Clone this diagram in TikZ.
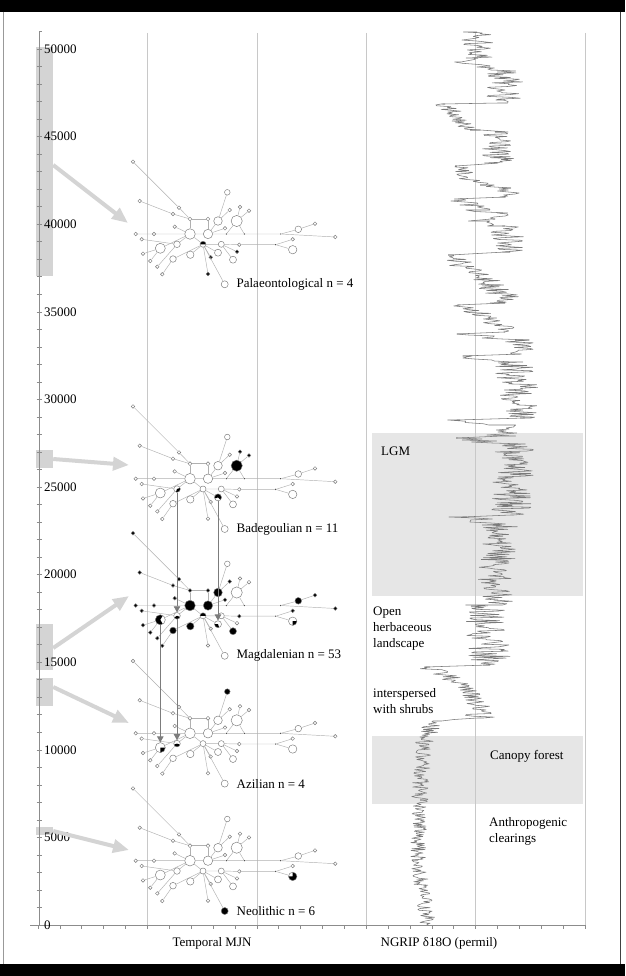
\documentclass[tikz,border=0pt]{standalone}
\usepackage{fontspec}
\setmainfont{Liberation Serif}
\usetikzlibrary{positioning,arrows.meta}
\definecolor{mjngrid}{HTML}{C8C8C8}
\definecolor{mjnaxis}{HTML}{8C8C8C}
\definecolor{mjnedge}{HTML}{B0B0B0}
\definecolor{mjnring}{HTML}{787878}
\definecolor{mjnspan}{HTML}{D4D4D4}
\definecolor{mjnshade}{HTML}{E6E6E6}
\definecolor{mjniso}{HTML}{7C7C7C}
\newcommand\figfont{\fontsize{13}{16}\selectfont}

% one median-joining network, laid out round the central haplotype n17
\newcommand\mjnnet{%
  \foreach \n/\x/\y/\r in {n1/-57/-72.3/1.8, n2/-50.3/-33/1.8, n3/-11/-26.3/1.8, n4/-17/-20/1.8,
      n5/0/-15/1.9, n6/18/-15/1.9, n7/37.3/-41.7/2.8, n8/39.7/-24/1.8, n9/50/-27/1.8,
      n10/59/-23.3/1.8, n11/28/-13/4.3, n12/46.7/-13/5.6, n13/-15.3/-7.3/1.8, n14/35/-5.7/1.8,
      n15/-54.3/0/1.8, n16/-36/0/1.8, n17/0/0/5.3, n18/18/0/4.7, n22/108.3/-4.7/3.3,
      n23/125/-10.3/1.8, n24/145.3/3/1.8, n25/-48.3/5.3/1.8, n26/-29.7/14.3/5, n27/-13/10.3/3.3,
      n28/13/10.3/3, n29/31.3/10.3/3, n30/49.3/10.7/1.8, n32/102.7/5.3/1.8, n33/102.7/15.7/4.2,
      n34/-47/19.7/1.8, n35/0.3/20.7/3.7, n36/-17/25/3.3, n37/28/18.7/3.5, n38/43/25.7/3.5,
      n39/47/17.7/1.8, n40/-39.7/27/1.8, n41/-32.7/32.7/1.8, n42/20.7/23.3/1.8, n43/-27.7/40.3/1.8,
      n44/18/40/1.8, n45/34.7/50.3/3.5}
    \node[hap=\r,look \n/.try] (\n) at (\x,\y) {};
  \foreach \n/\x/\y in {n19/36.3/0, n20/54.3/0, n21/90.7/0, n31/85.7/10.7}
    \node[junction] (\n) at (\x,\y) {};
  \draw[link] (n15) -- (n16) -- (n17) -- (n18) -- (n19) -- (n20) -- (n21) -- (n24);
  \draw[link] (n17) -- (n28) -- (n29) -- (n30) -- (n31) -- (n33);
  \foreach \a/\b in {n1/n3, n3/n5, n2/n4, n4/n5, n5/n6, n5/n17, n6/n18, n7/n11, n8/n11,
      n9/n12, n10/n12, n11/n18, n12/n19, n12/n20, n13/n17, n14/n18, n21/n22, n22/n23,
      n25/n27, n26/n17, n27/n17, n31/n32, n34/n26, n35/n28, n36/n28, n37/n28, n38/n29,
      n39/n29, n40/n26, n41/n27, n43/n36, n42/n28, n44/n28, n45/n28}
    \draw[link] (\a) -- (\b);
}

\begin{document}
\begin{tikzpicture}[x=1pt,y=-1pt,
  hap/.style={circle,draw=mjnring,fill=white,line width=0.45pt,inner sep=0pt,minimum size=2*#1},
  junction/.style={circle,fill=black!75,inner sep=0pt,minimum size=1.4pt},
  blk/.style={fill=black},
  wedge/.style 2 args={path picture={\fill[black] (path picture bounding box.center) -- ++(#1:8pt) arc[start angle=#1,end angle=#2,radius=8pt] -- cycle;}},
  inked/.style={look #1/.style=blk},
  split/.style n args={3}{look #1/.style={wedge={#2}{#3}}},
  link/.style={draw=mjnedge,line width=0.45pt},
  tag/.style={font=\figfont,inner sep=0pt},
  note/.style={font=\figfont,inner sep=0pt,align=left},
  ylab/.style={font=\figfont,inner sep=0pt,anchor=west},
  span/.style={rectangle,fill=mjnspan,inner sep=0pt,minimum width=17pt},
  spanarrow/.style={draw=mjnspan,line width=4pt,-{Triangle[length=16pt,width=13pt]}},
  drop/.style={draw=mjniso,line width=0.8pt,-{Triangle[length=6pt,width=6.5pt]}},
  gridline/.style={draw=mjngrid,line width=0.6pt},
  axisline/.style={draw=mjnaxis,line width=0.6pt},
  iso/.style={draw=black!52,line width=0.55pt,line join=round},
  look pal/.style={split={n28}{0}{180}, inked=n39, inked=n42, inked=n44},
  look bad/.style={inked=n9, inked=n10, inked=n12, split={n27}{-110}{20}, split={n37}{-45}{200}},
  look mag/.style={inked=n1, inked=n2, inked=n3, inked=n4, inked=n5, inked=n6, inked=n8,
    inked=n11, inked=n13, inked=n14, inked=n15, inked=n16, inked=n17, inked=n18, inked=n22,
    inked=n23, inked=n24, inked=n25, inked=n30, inked=n32, inked=n34, inked=n35, inked=n36,
    inked=n38, inked=n40, inked=n41, inked=n43, split={n26}{60}{300}, split={n27}{-150}{-20},
    split={n28}{0}{180}, split={n37}{180}{290}, split={n33}{-90}{0}},
  look azi/.style={inked=n7, split={n26}{-90}{0}, split={n27}{200}{340}},
  look neo/.style={inked=n45, split={n33}{180}{450}}
]
\useasboundingbox (0,0) rectangle (625,976);
\fill[white] (0,0) rectangle (625,976);
\fill[black] (0,0) rectangle (625,12);
\fill[black] (0,964) rectangle (625,976);
\draw[black!40,line width=0.8pt] (3.5,12) -- (3.5,964);
\draw[black!75,line width=1.2pt] (620.5,12) -- (620.5,964);

% climate phases
\fill[mjnshade] (372,433) rectangle (583,596);
\fill[mjnshade] (372,736) rectangle (583,804);

% grid and time axis
\foreach \gx in {147.4,256.8,366.2,475.6,585}
  \draw[gridline] (\gx,33) -- (\gx,925);
\foreach \b/\yc/\h in {1/161.5/229, 2/459/18, 3/647/46, 4/692/28, 5/831/8}
  \node[span,minimum height=\h] (bar\b) at (44.5,\yc) {};
\draw[axisline] (39,31.5) -- (39,925);
\draw[axisline] (39,31.5) -- (42,31.5);
\draw[axisline] (30,925) -- (585,925);
\foreach \k in {1,...,50}
  \draw[axisline] (36.5,{925-17.52*\k}) -- (41.5,{925-17.52*\k});
\foreach \k in {0,...,25}
  \draw[axisline] ({38+21.88*\k},925) -- ++(0,4);
\foreach \k in {0,...,10}
  \node[ylab] (t\k) at (44,{925-87.6*\k}) {\number\numexpr5000*\k\relax};

% NGRIP d18O record
\pgfmathsetseed{4711}
\foreach \yb/\xb/\am [remember=\yb as \ya (initially 32), remember=\xb as \xa (initially 477)] in
  {58/478/12, 62/457/5, 66/490/8, 72/505/14, 100/505/14, 103/505/4, 104/445/5, 130/470/8,
   132/495/14, 163/497/14, 166/455/4, 185/480/10, 188/503/12, 197/505/12, 199/458/4,
   210/480/10, 213/500/12, 219/495/8, 221/472/4, 226/505/14, 252/510/14, 255/448/4,
   285/495/12, 303/505/14, 305/458/4, 318/490/10, 332/505/12, 334/462/4, 340/515/14,
   354/520/14, 356/463/4, 362/515/14, 418/520/16, 420/460/4, 425/505/14, 436/505/14,
   438/456/4, 445/515/16, 515/512/16, 517/467/4, 525/500/14, 600/495/14, 605/485/16,
   665/490/16, 667/430/4, 690/470/10, 718/480/12, 721/437/4, 737/425/8, 800/420/7,
   860/418/6, 925/428/6}
{
  \pgfmathtruncatemacro\ns{max(2,(\yb-\ya)/0.85)}
  \draw[iso] (\xa,\ya) -- plot[domain=\ya:\yb,samples=\ns,variable=\t]
    ({\xa+(\xb-\xa)*(\t-\ya)/(\yb-\ya)+1.3*\am*rand},\t) -- (\xb,\yb);
}

\node[note,anchor=west] (lgm) at (381,451) {LGM};
\node[note,anchor=west] (open) at (373,629) {Open\\herbaceous\\landscape};
\node[note,anchor=west] (shrub) at (373,701) {interspersed\\with shrubs};
\node[note,anchor=west] (canopy) at (490,756) {Canopy forest};
\node[note,anchor=west] (clear) at (489,831) {Anthropogenic\\clearings};

% temporal networks
\begin{scope}[shift={(190,234)},name prefix=pal-,look pal]
  \mjnnet
  \node[tag,right=8pt of n45] (lab) {Palaeontological n = 4};
\end{scope}
\begin{scope}[shift={(190,478.7)},name prefix=bad-,look bad]
  \mjnnet
  \node[tag,right=8pt of n45] (lab) {Badegoulian n = 11};
\end{scope}
\begin{scope}[shift={(190,605.5)},name prefix=mag-,look mag]
  \mjnnet
  \node[tag,right=8pt of n45] (lab) {Magdalenian n = 53};
\end{scope}
\begin{scope}[shift={(190,733.3)},name prefix=azi-,look azi]
  \mjnnet
  \node[tag,right=8pt of n45] (lab) {Azilian n = 4};
\end{scope}
\begin{scope}[shift={(190,860.7)},name prefix=neo-,look neo]
  \mjnnet
  \node[tag,right=8pt of n45] (lab) {Neolithic n = 6};
\end{scope}

\draw[drop] (bad-n27) -- (mag-n27);
\draw[drop] (bad-n37) -- (mag-n37);
\draw[drop] (mag-n26) -- (azi-n26);
\draw[drop] (mag-n27) -- (azi-n27);

% periods pointing into the networks
\coordinate (pal-in) at (128,223);
\coordinate (bad-in) at (129,465);
\coordinate (mag-in) at (129,596);
\coordinate (azi-in) at (129,723);
\coordinate (neo-in) at (129,850);
\draw[spanarrow] ([yshift=-3.5pt]bar1.east) -- (pal-in);
\draw[spanarrow] (bar2.east) -- (bad-in);
\draw[spanarrow] ([yshift=-1pt]bar3.east) -- (mag-in);
\draw[spanarrow] ([yshift=5pt]bar4.east) -- (azi-in);
\draw[spanarrow] (bar5.east) -- (neo-in);

\node[note] (mjnlab) at (212,943) {Temporal MJN};
\node[note] (isolab) at (439,943) {NGRIP δ18O (permil)};
\end{tikzpicture}
\end{document}
